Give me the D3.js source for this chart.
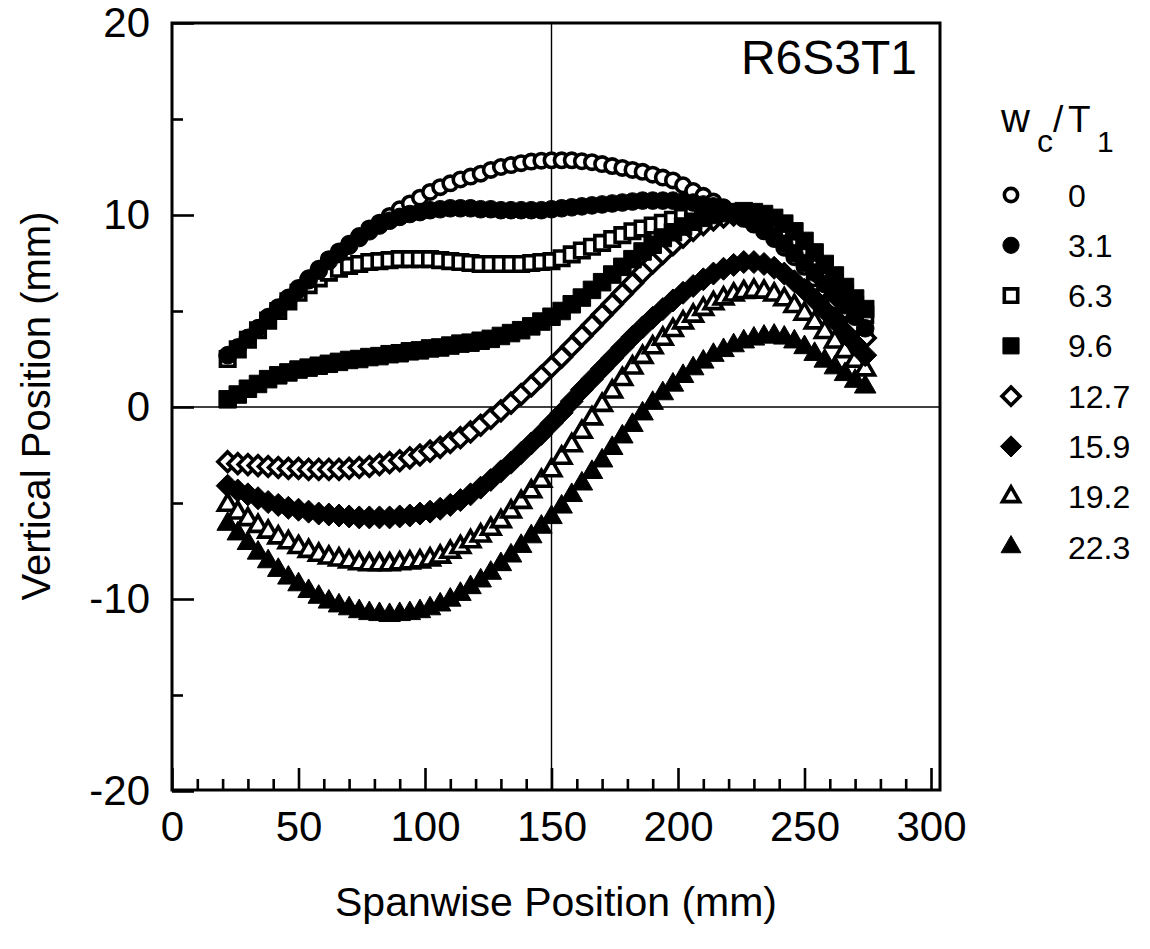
<!DOCTYPE html>
<html><head><meta charset="utf-8">
<script src="https://cdn.jsdelivr.net/npm/d3@7"></script>
<style>
body{margin:0;background:#fff}
svg{display:block}
text{font-family:"Liberation Sans",Arial,Helvetica,sans-serif;fill:#000}
</style>
</head><body>
<svg id="chart" width="1150" height="949"></svg>
<script>
// ---------------- DATA ----------------
const seriesLabels = ["0", "3.1", "6.3", "9.6", "12.7", "15.9", "19.2", "22.3"];
const spanwise = [22,26,30,34,38,42,46,50,54,58,62,66,70,74,78,82,86,90,94,98,102,106,110,114,118,122,126,130,134,138,142,146,150,154,158,162,166,170,174,178,182,186,190,194,198,202,206,210,214,218,222,226,230,234,238,242,246,250,254,258,262,266,270,274];

const w0 = [2.6,3.1,3.6,4.1,4.7,5.2,5.7,6.2, 6.7,7.2,7.7,8.1,8.5,8.9,9.3,9.6, 9.95,10.3,10.6,10.9,11.2,11.45,11.65,11.85, 12.0,12.15,12.35,12.5,12.6,12.7,12.78,12.83, 12.85,12.85,12.85,12.8,12.75,12.65,12.55,12.45, 12.35,12.25,12.1,11.95,11.8,11.55,11.25,11.0, 10.7,10.4,10.1,9.8,9.5,9.15,8.75,8.3, 7.8,7.3,6.7,6.1,5.5,4.9,4.3,3.7];
const w31 = [2.7,3.1,3.6,4.1,4.6,5.1,5.6,6.1, 6.6,7.1,7.6,8.0,8.4,8.8,9.15,9.45, 9.7,9.9,10.05,10.15,10.25,10.3,10.35,10.35, 10.35,10.3,10.3,10.25,10.25,10.25,10.25,10.25, 10.3,10.35,10.4,10.45,10.5,10.55,10.6,10.65, 10.7,10.75,10.75,10.75,10.75,10.7,10.65,10.55, 10.45,10.3,10.1,9.9,9.6,9.3,8.9,8.5, 8.0,7.5,7.0,6.4,5.9,5.3,4.7,4.1];
const w63 = [2.5,3.0,3.5,4.0,4.5,5.0,5.5,5.95, 6.35,6.7,7.0,7.2,7.35,7.45,7.55,7.6, 7.65,7.7,7.7,7.7,7.7,7.65,7.6,7.55, 7.5,7.45,7.45,7.45,7.45,7.45,7.5,7.55, 7.6,7.75,7.95,8.15,8.35,8.55,8.75,8.95, 9.15,9.3,9.45,9.6,9.75,9.9,10.0,10.1, 10.15,10.15,10.1,10.0,9.8,9.55,9.25,8.9, 8.5,8.0,7.5,7.0,6.4,5.9,5.3,4.8];
const w96 = [0.4,0.65,0.95,1.2,1.45,1.65,1.8,1.95, 2.05,2.15,2.25,2.35,2.45,2.5,2.6,2.65, 2.75,2.8,2.9,2.95,3.05,3.1,3.2,3.3, 3.35,3.45,3.55,3.7,3.85,4.0,4.2,4.45, 4.7,5.0,5.35,5.7,6.1,6.5,6.9,7.3, 7.7,8.1,8.45,8.8,9.1,9.4,9.65,9.85, 10.0,10.1,10.15,10.2,10.15,10.05,9.85,9.55, 9.15,8.65,8.05,7.45,6.85,6.25,5.65,5.1];
const w127 = [-2.85,-2.95,-3.0,-3.05,-3.1,-3.15,-3.2,-3.2, -3.25,-3.25,-3.25,-3.25,-3.2,-3.15,-3.1,-3.0, -2.9,-2.8,-2.65,-2.5,-2.3,-2.1,-1.85,-1.6, -1.3,-0.95,-0.6,-0.2,0.2,0.65,1.1,1.6, 2.1,2.6,3.15,3.7,4.25,4.8,5.35,5.9, 6.45,7.0,7.5,8.0,8.45,8.85,9.2,9.5, 9.75,9.9,10.0,10.0,9.9,9.7,9.4,9.0, 8.5,7.9,7.25,6.55,5.85,5.1,4.35,3.6];
const w159 = [-4.1,-4.35,-4.55,-4.75,-4.95,-5.1,-5.25,-5.35, -5.45,-5.55,-5.6,-5.65,-5.7,-5.75,-5.75,-5.75, -5.75,-5.7,-5.65,-5.55,-5.45,-5.3,-5.1,-4.85, -4.55,-4.2,-3.8,-3.35,-2.9,-2.4,-1.9,-1.4, -0.85,-0.3,0.3,0.9,1.45,2.0,2.55,3.1, 3.65,4.15,4.65,5.1,5.55,5.95,6.3,6.65, 6.95,7.2,7.4,7.55,7.55,7.45,7.25,6.95, 6.55,6.1,5.6,5.05,4.5,3.9,3.3,2.7];
const w192 = [-5.1,-5.5,-5.85,-6.2,-6.5,-6.8,-7.05,-7.3, -7.5,-7.7,-7.85,-7.95,-8.05,-8.15,-8.2,-8.2, -8.2,-8.15,-8.1,-8.05,-7.95,-7.8,-7.55,-7.3, -7.0,-6.7,-6.35,-5.95,-5.45,-4.95,-4.4,-3.85, -3.3,-2.65,-2.0,-1.3,-0.6,0.1,0.8,1.45, 2.05,2.6,3.1,3.55,4.0,4.4,4.75,5.1, 5.4,5.65,5.85,5.98,6.05,6.0,5.85,5.6, 5.25,4.85,4.4,3.9,3.4,2.9,2.4,1.95];
const w223 = [-6.1,-6.6,-7.1,-7.6,-8.05,-8.5,-8.9,-9.25, -9.6,-9.9,-10.15,-10.35,-10.5,-10.65,-10.75,-10.8, -10.85,-10.8,-10.75,-10.65,-10.5,-10.3,-10.05,-9.75, -9.4,-9.05,-8.65,-8.2,-7.75,-7.25,-6.75,-6.25, -5.75,-5.2,-4.6,-4.0,-3.4,-2.8,-2.15,-1.55, -0.95,-0.35,0.2,0.7,1.15,1.6,2.0,2.35, 2.7,2.95,3.2,3.4,3.55,3.65,3.7,3.6, 3.4,3.1,2.75,2.4,2.05,1.7,1.35,1.05];

const seriesValues = [w0, w31, w63, w96, w127, w159, w192, w223];

const xMajorTicks = [0, 50, 100, 150, 200, 250, 300];
const xMinorTicks = [10,20,30,40,60,70,80,90,110,120,130,140,160,170,180,190,210,220,230,240,260,270,280,290];
const yMajorTicks = [-20, -10, 0, 10, 20];
const yMinorTicks = [-15, -5, 5, 15];
const refX = 150, refY = 0;

// ---------------- STYLE ----------------
const shapes = ["circle","circle","square","square","diamond","diamond","triangle","triangle"];
const filled = [false,true,false,true,false,true,false,true];
const drawOrder = [0, 2, 4, 6, 1, 3, 5, 7]; // open markers first, filled on top

const diamond = {draw(ctx, size){ const r = Math.sqrt(size/2); ctx.moveTo(0,-r); ctx.lineTo(r,0); ctx.lineTo(0,r); ctx.lineTo(-r,0); ctx.closePath(); }};
function symType(s){ return s==="circle"?d3.symbolCircle : s==="square"?d3.symbolSquare : s==="diamond"?diamond : d3.symbolTriangle; }
function symSize(s, f){
  if (s==="circle") return f ? Math.PI*8.8*8.8 : Math.PI*7.2*7.2;
  if (s==="square") return f ? 17.5*17.5 : 14.5*14.5;
  if (s==="diamond") return f ? 2*11.5*11.5 : 2*9.8*9.8;
  return f ? 21.5*21.5*Math.sqrt(3)/4 : 18.5*18.5*Math.sqrt(3)/4;
}
const openStroke = 3.6;

// ---------------- CHART ----------------
const svg = d3.select("#chart");
const L = 172, R = 940, T = 23, B = 790;
const x = d3.scaleLinear().domain([0, 300]).range([L, 931]);
const y = d3.scaleLinear().domain([-20, 20]).range([791, 23]);

// reference lines
svg.append("line").attr("x1", x(refX)).attr("x2", x(refX)).attr("y1", T).attr("y2", B)
  .attr("stroke","#000").attr("stroke-width",1.4);
svg.append("line").attr("x1", L).attr("x2", R).attr("y1", y(refY)).attr("y2", y(refY))
  .attr("stroke","#000").attr("stroke-width",1.6);

// data markers
drawOrder.forEach(i => {
  const vals = seriesValues[i];
  const g = svg.append("g");
  const gen = d3.symbol().type(symType(shapes[i])).size(symSize(shapes[i], filled[i]));
  g.selectAll("path").data(vals.map((v, j) => [spanwise[j], v])).join("path")
    .attr("d", gen)
    .attr("transform", d => `translate(${x(d[0])},${y(d[1])})`)
    .attr("fill", filled[i] ? "#000" : "#fff")
    .attr("stroke", "#000")
    .attr("stroke-width", filled[i] ? 1 : openStroke);
});

// axes
const fmt = d => String(d);
const gxMinor = svg.append("g").attr("transform", `translate(0,${B})`)
  .call(d3.axisBottom(x).tickValues(xMinorTicks).tickSizeInner(-11).tickSizeOuter(0).tickFormat(""));
const gxMajor = svg.append("g").attr("transform", `translate(0,${B})`)
  .call(d3.axisBottom(x).tickValues(xMajorTicks).tickSizeInner(-22).tickSizeOuter(0).tickPadding(21).tickFormat(fmt));
const gyMinor = svg.append("g").attr("transform", `translate(${L},0)`)
  .call(d3.axisLeft(y).tickValues(yMinorTicks).tickSizeInner(-11).tickSizeOuter(0).tickFormat(""));
const gyMajor = svg.append("g").attr("transform", `translate(${L},0)`)
  .call(d3.axisLeft(y).tickValues(yMajorTicks).tickSizeInner(-22).tickSizeOuter(0).tickPadding(22).tickFormat(fmt));
[gxMinor,gxMajor,gyMinor,gyMajor].forEach(g => {
  g.select(".domain").remove();
  g.selectAll(".tick line").attr("stroke","#000").attr("stroke-width",2.6);
  g.selectAll(".tick text").attr("font-size",42).attr("font-family",'"Liberation Sans",Arial,sans-serif').attr("fill","#000");
});

// frame
svg.append("rect").attr("x", L).attr("y", T).attr("width", R-L).attr("height", B-T)
  .attr("fill","none").attr("stroke","#000").attr("stroke-width",3);

// axis titles
svg.append("text").attr("x", 556).attr("y", 916).attr("text-anchor","middle")
  .attr("font-size",41).text("Spanwise Position (mm)");
svg.append("text").attr("transform","translate(50,406) rotate(-90)").attr("text-anchor","middle")
  .attr("font-size",40).text("Vertical Position (mm)");

// run label
svg.append("text").attr("x", 917).attr("y", 74).attr("text-anchor","end")
  .attr("font-size",48).text("R6S3T1");

// legend title
const lt = svg.append("text").attr("y", 132);
lt.append("tspan").attr("x",1001).attr("font-size",40).text("w");
lt.append("tspan").attr("x",1037).attr("dy",20).attr("font-size",32).text("c");
lt.append("tspan").attr("x",1053).attr("dy",-20).attr("font-size",37).text("/");
lt.append("tspan").attr("x",1068).attr("font-size",37).text("T");
lt.append("tspan").attr("x",1097).attr("dy",20).attr("font-size",30).text("1");

// legend entries
const legY = d3.scalePoint().domain(seriesLabels).range([195, 547]);
const leg = svg.append("g").selectAll("g").data(seriesLabels).join("g")
  .attr("transform", d => `translate(0,${legY(d)})`);
leg.append("path")
  .attr("d", (d,i) => d3.symbol().type(symType(shapes[i])).size(symSize(shapes[i], filled[i]) * 0.85)())
  .attr("transform","translate(1011,0)")
  .attr("fill", (d,i) => filled[i] ? "#000" : "#fff")
  .attr("stroke","#000")
  .attr("stroke-width", (d,i) => filled[i] ? 1 : 3.6);
leg.append("text").attr("x",1068).attr("y",11.5).attr("font-size",32).text(d => d);
</script>
</body></html>
